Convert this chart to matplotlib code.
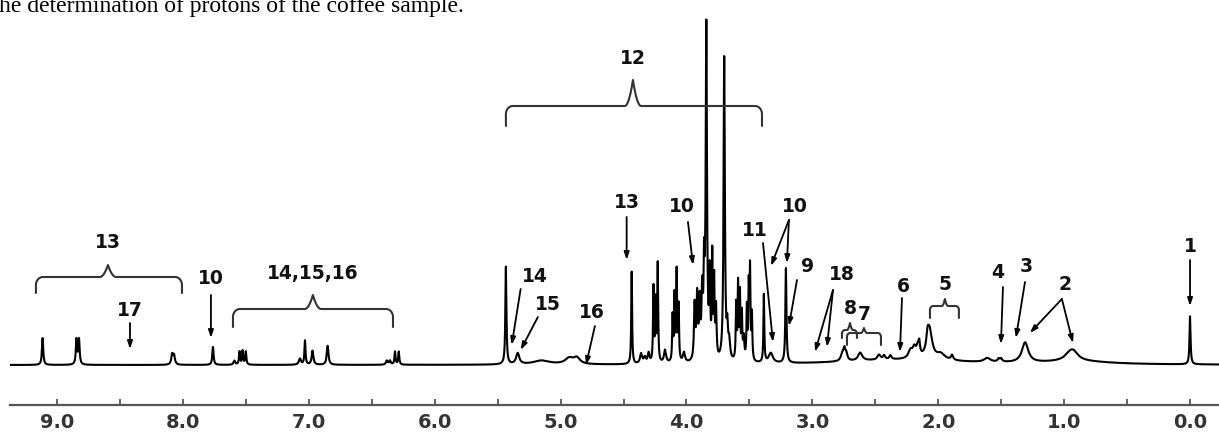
"""1H NMR spectrum of the coffee sample with signal assignments."""
import matplotlib
matplotlib.use("Agg")
import matplotlib.pyplot as plt
import numpy as np

# peak list: shift (ppm), height (a.u.), half width (ppm)
peak_ppm = [
    9.114, 8.845, 8.825, 8.085, 8.070, 7.761,
    7.590, 7.550, 7.525, 7.500, 7.070, 7.030, 6.970, 6.850,
    6.380, 6.355, 6.315, 6.285,
    5.434, 5.340, 5.150, 4.930, 4.870,
    4.435, 4.360, 4.330, 4.300, 4.262, 4.245, 4.228, 4.170,
    4.110, 4.095, 4.078, 4.062, 4.020,
    3.935, 3.915, 3.895, 3.875, 3.860, 3.842,
    3.815, 3.795, 3.780, 3.765, 3.700, 3.675, 3.660,
    3.605, 3.590, 3.575, 3.560, 3.545,
    3.520, 3.505, 3.495, 3.480, 3.385, 3.330, 3.210,
    2.300, 2.760, 2.745, 2.730, 2.620, 2.470, 2.430, 2.380,
    2.220, 2.190, 2.160, 2.150, 2.085, 2.070, 1.980, 1.890,
    1.610, 1.520, 1.500, 1.310, 0.950, 0.920, 0.900, 0.000,
]
peak_height = [
    27, 25, 25, 10, 9, 18,
    4, 13, 14, 13, 6, 24, 14, 19,
    4, 4, 13, 13,
    98, 11, 4, 6, 6,
    93, 10, 6, 10, 75, 60, 98, 13,
    45, 65, 90, 55, 10,
    55, 62, 55, 62, 80, 331,
    80, 100, 75, 50, 305, 28, 18,
    55, 75, 65, 45, 22,
    52, 70, 88, 45, 68, 10, 95,
    5, 8, 9, 7, 8, 5, 4, 4,
    8, 9, 12, 8, 10, 30, 6, 5,
    4, 3, 3, 20, 8, 5, 3, 48,
]
peak_width = [
    0.006, 0.006, 0.006, 0.008, 0.008, 0.006,
    0.008, 0.005, 0.005, 0.005, 0.010, 0.005, 0.008, 0.008,
    0.008, 0.008, 0.005, 0.005,
    0.005, 0.015, 0.080, 0.040, 0.030,
    0.004, 0.010, 0.010, 0.008, 0.004, 0.004, 0.004, 0.010,
    0.004, 0.004, 0.004, 0.004, 0.010,
    0.006, 0.006, 0.006, 0.006, 0.005, 0.006,
    0.005, 0.004, 0.004, 0.005, 0.006, 0.006, 0.008,
    0.004, 0.004, 0.004, 0.004, 0.006,
    0.004, 0.004, 0.004, 0.004, 0.004, 0.020, 0.005,
    0.600, 0.015, 0.008, 0.010, 0.020, 0.015, 0.010, 0.010,
    0.020, 0.015, 0.015, 0.005, 0.010, 0.025, 0.040, 0.010,
    0.030, 0.010, 0.010, 0.030, 0.050, 0.040, 0.300, 0.005,
]

tick_ppm = [9, 8, 7, 6, 5, 4, 3, 2, 1, 0]
tick_labels = ["9.0", "8.0", "7.0", "6.0", "5.0", "4.0", "3.0", "2.0", "1.0", "0.0"]

# assignments: label, text position, arrow start, arrow tips (ppm, height)
arrow_labels = [
    ("17", (8.420, 55), (8.420, 42), [(8.420, 16)]),
    ("10", (7.777, 86), (7.777, 70), [(7.777, 27)]),
    ("13", (4.473, 162), (4.475, 148), [(4.475, 105)]),
    ("10", (4.036, 158), (3.988, 143), [(3.948, 100)]),
    ("10", (3.138, 158), (3.186, 145), [(3.329, 99), (3.202, 102)]),
    ("11", (3.456, 135), (3.392, 122), [(3.313, 23)]),
    ("9", (3.035, 98), (3.122, 85), [(3.186, 39)]),
    ("18", (2.765, 90), (2.836, 75), [(2.979, 13), (2.884, 18)]),
    ("6", (2.280, 79), (2.288, 67), [(2.304, 13)]),
    ("4", (1.526, 92), (1.486, 78), [(1.502, 21)]),
    ("3", (1.303, 98), (1.311, 83), [(1.383, 27)]),
    ("2", (0.994, 80), (1.018, 66), [(1.272, 32), (0.930, 22)]),
    ("1", (0.000, 119), (0.000, 105), [(0.000, 59)]),
    ("14", (5.203, 88), (5.317, 76), [(5.388, 20)]),
    ("15", (5.100, 61), (5.180, 48), [(5.317, 15)]),
    ("16", (4.751, 52), (4.727, 39), [(4.798, 0)]),
]
# braces: label, left ppm, right ppm, centre ppm, bar height, end height, tip height
brace_labels = [
    ("13", 9.167, 8.007, 8.595, 88, 72, 100),
    ("14,15,16", 7.602, 6.331, 6.967, 56, 38, 70),
    ("12", 5.434, 3.400, 4.425, 259, 239, 285),
    ("8", 2.765, 2.646, 2.701, 35, 27, 42),
    ("7", 2.725, 2.455, 2.590, 32, 20, 37),
    ("5", 2.066, 1.836, 1.947, 59, 47, 66),
]

x = np.linspace(-0.25, 9.4, 12000)
y = np.zeros_like(x)
for p, h, w in zip(peak_ppm, peak_height, peak_width):
    y += h / (1.0 + ((x - p) / w) ** 2)

fig = plt.figure(figsize=(12.19, 4.33), dpi=100, facecolor="white")
ax = fig.add_axes([10 / 1219, 28 / 433, 1 - 10 / 1219, 1 - 28 / 433])
ax.plot(x, y, color="black", lw=1.5)
ax.set_xlim(9.373, -0.23)
ax.set_ylim(-40, 365)

for s in ["top", "left", "right"]:
    ax.spines[s].set_visible(False)
ax.spines["bottom"].set_color("#555555")
ax.spines["bottom"].set_linewidth(1.6)
ax.set_yticks([])
ax.set_xticks(tick_ppm)
ax.set_xticklabels(tick_labels, fontsize=14, fontweight="bold", color="#333333")
ax.set_xticks(np.arange(0.5, 9.5, 1.0), minor=True)
ax.tick_params(axis="x", which="both", direction="in", length=4, width=1.3,
               color="#555555", pad=6)

txt_kw = dict(fontsize=13.5, fontweight="bold", ha="center", va="center", color="#111111")


def brace(ax, xl, xr, xc, ybar, yend, ytip, big=True):
    # curly brace drawn in (-ppm) space so that "left" means larger ppm
    rx = 0.055 if big else 0.025
    ry = 8 if big else 4
    d = 0.065 if big else 0.025
    ul, ur, uc = -xl, -xr, -xc
    th = np.linspace(np.pi, np.pi / 2, 15)
    u1 = np.concatenate([[ul], ul + rx + rx * np.cos(th)])
    y1 = np.concatenate([[yend], ybar - ry + ry * np.sin(th)])
    t = np.linspace(0, 1, 15)
    u2 = uc - d * (1 - t)
    y2 = ybar + (ytip - ybar) * t ** 2
    u3 = uc + d * t
    y3 = ybar + (ytip - ybar) * (1 - t) ** 2
    th2 = np.linspace(np.pi / 2, 0, 15)
    u4 = np.concatenate([ur - rx + rx * np.cos(th2), [ur]])
    y4 = np.concatenate([ybar - ry + ry * np.sin(th2), [yend]])
    u = np.concatenate([u1, u2, u3, u4])
    yy = np.concatenate([y1, y2, y3, y4])
    ax.plot(-u, yy, color="#333333", lw=1.5, solid_capstyle="round")


for lab, xl, xr, xc, ybar, yend, ytip in brace_labels:
    big = (xl - xr) > 0.5
    brace(ax, xl, xr, xc, ybar, yend, ytip, big)
    ax.text(xc, ytip + (22 if big else 14), lab, **txt_kw)

for lab, tpos, start, tips in arrow_labels:
    ax.text(tpos[0], tpos[1], lab, **txt_kw)
    for tip in tips:
        ax.annotate("", xy=tip, xytext=start,
                    arrowprops=dict(arrowstyle="-|>,head_length=0.45,head_width=0.15",
                                    color="black", lw=1.3, shrinkA=0, shrinkB=0))

fig.text(-1 / 1219, 1 - 12.0 / 433, "he determination of protons of the coffee sample.",
         fontsize=17, family="Liberation Serif", ha="left", va="baseline", color="black")

fig.savefig("out.png", dpi=100, facecolor="white")
